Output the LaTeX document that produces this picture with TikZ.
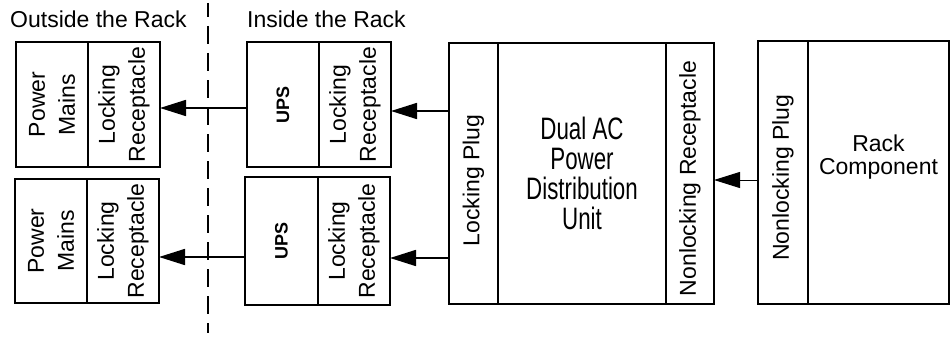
\documentclass[tikz,border=0pt]{standalone}
\usepackage{fontspec}
\setmainfont{Liberation Sans}
\newfontfamily\narrowfont[FakeStretch=0.72]{Liberation Sans}
\usetikzlibrary{positioning}
\usetikzlibrary{arrows.meta}

\tikzset{
  cell/.style={draw, line width=1.7pt, inner sep=0pt, outer sep=0pt},
  sidetext/.style={rotate=90, align=center, inner sep=0pt,
    font=\fontsize{23}{30}\selectfont},
  flow/.style={-{Triangle[length=26pt, width=16pt]}, line width=1.7pt},
  title/.style={anchor=base west, inner sep=0pt, font=\fontsize{23}{28}\selectfont},
}

\begin{document}
\begin{tikzpicture}[x=1pt, y=-1pt]
\useasboundingbox (0,0) rectangle (950,337);

% titles
\node[title] (outtitle) at (10,28) {Outside the Rack};
\node[title] (intitle) at (247,28) {Inside the Rack};

% outside the rack
\node[cell, minimum width=72pt, minimum height=125pt,
  label={[sidetext, name=mainsAtxt]center:Power\\Mains}] (mainsA) at (52,104.5) {};
\node[cell, minimum width=72pt, minimum height=125pt, right=0pt of mainsA,
  label={[sidetext, name=lrecAtxt]center:Locking\\Receptacle}] (lrecA) {};
\node[cell, minimum width=72pt, minimum height=124pt,
  label={[sidetext, name=mainsBtxt]center:Power\\Mains}] (mainsB) at (51,241) {};
\node[cell, minimum width=72pt, minimum height=124pt, right=0pt of mainsB,
  label={[sidetext, name=lrecBtxt]center:Locking\\Receptacle}] (lrecB) {};

% inside the rack: UPS units
\node[cell, minimum width=72pt, minimum height=125pt,
  label={[sidetext, name=upsAtxt, font=\bfseries\fontsize{18}{22}\selectfont]center:UPS}]
  (upsA) at (283,104.5) {};
\node[cell, minimum width=72pt, minimum height=125pt, right=0pt of upsA,
  label={[sidetext, name=urecAtxt]center:Locking\\Receptacle}] (urecA) {};
\node[cell, minimum width=73pt, minimum height=128pt,
  label={[sidetext, name=upsBtxt, font=\bfseries\fontsize{18}{22}\selectfont]center:UPS}]
  (upsB) at (281.5,241) {};
\node[cell, minimum width=72pt, minimum height=128pt, right=0pt of upsB,
  label={[sidetext, name=urecBtxt]center:Locking\\Receptacle}] (urecB) {};

% power distribution unit
\node[cell, minimum width=168pt, minimum height=261pt, align=center,
  font=\narrowfont\fontsize{31}{30}\selectfont] (pdu) at (582,173.5)
  {Dual AC\\Power\\Distribution\\Unit};
\node[cell, minimum width=49pt, minimum height=261pt, left=0pt of pdu,
  label={[yshift=-7pt, sidetext, name=plugtxt]center:Locking Plug}] (plug) {};
\node[cell, minimum width=48pt, minimum height=261pt, right=0pt of pdu,
  label={[yshift=-5pt, sidetext, name=nrectxt]center:Nonlocking Receptacle}] (nrec) {};

% rack component
\node[cell, minimum width=141pt, minimum height=263pt,
  label={[yshift=15pt, align=center, font=\fontsize{23}{23}\selectfont, name=racktxt]center:Rack\\Component}]
  (rack) at (878.5,172.5) {};
\node[cell, minimum width=50pt, minimum height=263pt, left=0pt of rack,
  label={[yshift=-5pt, sidetext, name=nplugtxt]center:Nonlocking Plug}] (nplug) {};

% rack boundary
\coordinate (divtop) at (208,3);
\coordinate (divbot) at (208,333);
\draw[line width=1.7pt, dash pattern=on 18pt off 9pt, dash phase=4pt] (divtop) -- (divbot);

% connectors
\coordinate (rowA) at (0,108);
\coordinate (rowB) at (0,257);
\coordinate (rowC) at (0,111);
\coordinate (rowD) at (0,258);
\coordinate (rowE) at (0,180);
\draw[flow] (upsA.west |- rowA) -- (lrecA.east |- rowA);
\draw[flow] (upsB.west |- rowB) -- (lrecB.east |- rowB);
\draw[flow] (plug.west |- rowC) -- (urecA.east |- rowC);
\draw[flow] (plug.west |- rowD) -- (urecB.east |- rowD);
\draw[flow, line width=1pt] (nplug.west |- rowE) -- (nrec.east |- rowE);
\end{tikzpicture}
\end{document}
